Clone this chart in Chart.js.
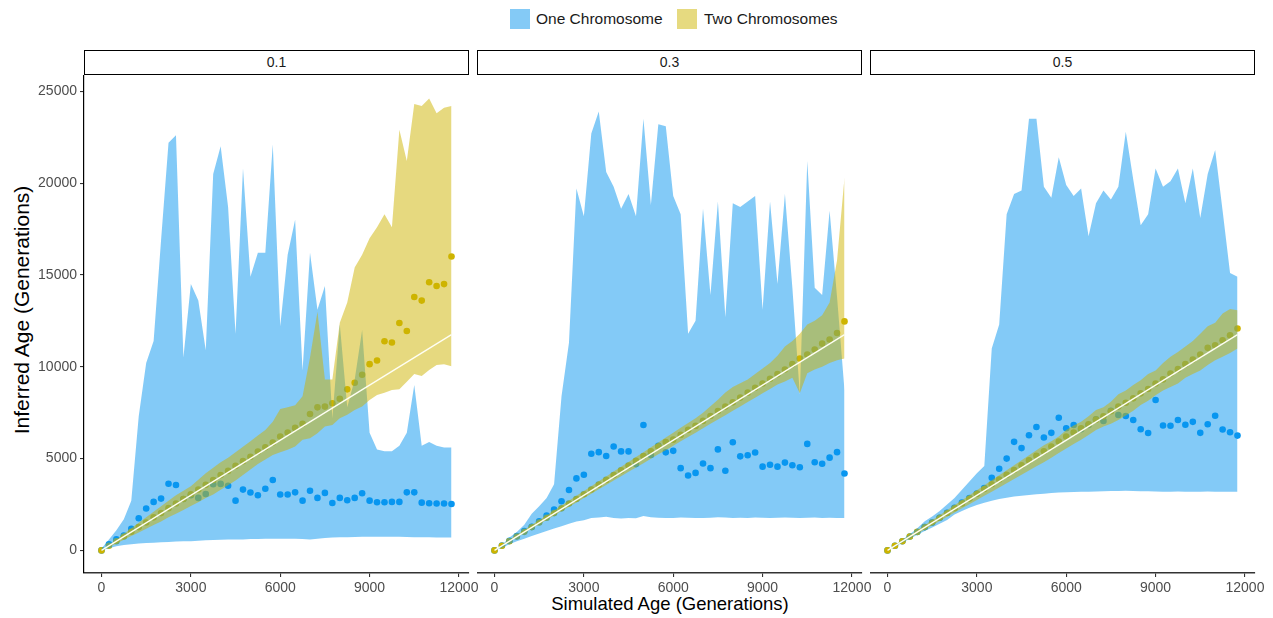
<!DOCTYPE html>
<html>
<head>
<meta charset="utf-8">
<script src="https://cdn.jsdelivr.net/npm/chart.js@4.4.1/dist/chart.umd.min.js"></script>
<style>
  body { margin: 0; background: #fff; font-family: "Liberation Sans", Arial, sans-serif; }
  #wrap { position: relative; width: 1273px; height: 618px; overflow: hidden; }
  canvas { position: absolute; }
  .strip { position: absolute; top: 50px; height: 25px; box-sizing: border-box; border: 1.4px solid #000;
           background: #fff; text-align: center; line-height: 22px; font-size: 14px; color: #1a1a1a; }
  .key { position: absolute; top: 9px; width: 20px; height: 20px; }
  .ktxt { position: absolute; top: 9px; line-height: 20px; font-size: 15.5px; color: #1a1a1a; white-space: nowrap; }
  #xtitle { position: absolute; left: 470px; width: 400px; top: 593px; text-align: center; font-size: 18.5px; color: #000; }
  #ytitle { position: absolute; left: 22px; top: 310px; transform: translate(-50%, -50%) rotate(-90deg);
            font-size: 21px; color: #000; white-space: nowrap; }
</style>
</head>
<body>
<div id="wrap">
  <div class="key" style="left:510px;background:#84caf6"></div>
  <div class="ktxt" style="left:536px">One Chromosome</div>
  <div class="key" style="left:677px;background:#e6da80"></div>
  <div class="ktxt" style="left:704px">Two Chromosomes</div>
  <div id="ytitle">Inferred Age (Generations)</div>
  <div id="xtitle">Simulated Age (Generations)</div>
</div>
<script>
// simulated ages (x) and axis ticks
const ages = [0, 250, 500, 750, 1000, 1250, 1500, 1750, 2000, 2250, 2500, 2750, 3000, 3250, 3500, 3750,
  4000, 4250, 4500, 4750, 5000, 5250, 5500, 5750, 6000, 6250, 6500, 6750, 7000, 7250, 7500, 7750,
  8000, 8250, 8500, 8750, 9000, 9250, 9500, 9750, 10000, 10250, 10500, 10750, 11000, 11250, 11500, 11750];
const xTicks = [0, 3000, 6000, 9000, 12000];
const yTicks = [0, 5000, 10000, 15000, 20000, 25000];
const panels = ["0.1", "0.3", "0.5"];

// facet 0.1
const oneMean01 = [0, 330, 600, 810, 1170, 1750, 2280, 2640, 2820, 3630,
  3560, 2800, 3000, 2860, 3070, 3600, 3620, 3520, 2710, 3310,
  3150, 3000, 3360, 3830, 3040, 3040, 3160, 2710, 3250, 2860,
  3130, 2580, 2860, 2730, 2860, 3110, 2710, 2620, 2620, 2640,
  2640, 3160, 3160, 2600, 2570, 2550, 2550, 2530];
const oneLow01 = [0, 120, 220, 300, 340, 370, 400, 420, 440, 460,
  480, 500, 500, 520, 550, 570, 580, 600, 600, 600,
  620, 620, 630, 630, 630, 640, 630, 620, 600, 640,
  680, 700, 720, 720, 730, 740, 740, 740, 740, 740,
  740, 730, 720, 720, 710, 700, 700, 700];
const oneHigh01 = [100, 600, 1100, 1700, 2700, 7300, 10200, 11400, 16900, 22200,
  22600, 10500, 14500, 13600, 10900, 20500, 22000, 18700, 11800, 20800,
  14900, 16200, 16200, 22100, 12200, 16100, 18000, 9800, 16200, 13100,
  14400, 7200, 12300, 7800, 9300, 12000, 6400, 5500, 5400, 5400,
  5700, 6400, 9000, 5700, 5900, 5700, 5600, 5600];
const twoMean01 = [0, 250, 500, 760, 1020, 1270, 1520, 1800, 2030, 2300,
  2550, 2800, 3060, 3320, 3570, 3830, 4100, 4330, 4600, 4860,
  5100, 5380, 5620, 5870, 6200, 6420, 6670, 6890, 7430, 7790,
  7830, 8010, 8260, 8770, 9130, 9560, 10140, 10340, 11390, 11320,
  12380, 11950, 13800, 13600, 14600, 14400, 14500, 16000];
const twoLow01 = [0, 180, 380, 580, 780, 980, 1180, 1380, 1580, 1800,
  2000, 2200, 2420, 2620, 2850, 3050, 3300, 3550, 3800, 4100,
  4400, 4700, 4950, 5200, 5350, 5480, 5660, 6020, 6110, 6380,
  6740, 6830, 7190, 7380, 7650, 7830, 8190, 8460, 8590, 8730,
  8770, 9180, 9600, 9490, 9820, 10090, 10140, 10030];
const twoHigh01 = [0, 300, 600, 900, 1200, 1500, 1800, 2100, 2400, 2700,
  3000, 3250, 3500, 3850, 4200, 4500, 4800, 5050, 5350, 5650,
  5950, 6250, 6550, 7000, 7700, 7800, 7900, 8400, 10500, 13000,
  9300, 9300, 12400, 13500, 15400, 16100, 17000, 17600, 18300, 17600,
  22900, 21200, 24300, 24200, 24600, 23800, 24100, 24200];

// facet 0.3
const oneMean03 = [0, 270, 520, 780, 1050, 1280, 1590, 1900, 2220, 2680,
  3290, 3920, 4120, 5260, 5350, 5140, 5660, 5390, 5390, 4700,
  6830, 5200, 5690, 5340, 5420, 4480, 4080, 4220, 4730, 4480,
  5500, 4340, 5890, 5120, 5180, 5330, 4560, 4660, 4560, 4780,
  4640, 4530, 5800, 4800, 4720, 5050, 5350, 4190];
const oneLow03 = [0, 150, 330, 500, 630, 780, 920, 1050, 1190, 1320,
  1450, 1570, 1640, 1770, 1790, 1830, 1770, 1740, 1770, 1750,
  1880, 1810, 1780, 1760, 1770, 1790, 1780, 1760, 1770, 1780,
  1800, 1790, 1770, 1780, 1760, 1790, 1780, 1770, 1780, 1790,
  1780, 1770, 1780, 1790, 1770, 1780, 1770, 1770];
const oneHigh03 = [0, 300, 700, 1000, 1400, 2000, 2400, 2850, 3600, 8400,
  11300, 19700, 18200, 22700, 23900, 20600, 19800, 18600, 19400, 18200,
  23500, 18800, 23200, 23100, 19300, 18300, 11800, 12500, 18600, 13900,
  19000, 12700, 18900, 18700, 19000, 19300, 13100, 19000, 14500, 19400,
  14300, 8500, 21200, 14300, 13900, 18500, 13800, 8700];
const twoMean03 = [0, 250, 500, 760, 1010, 1270, 1520, 1780, 2030, 2290,
  2550, 2800, 3060, 3320, 3580, 3840, 4100, 4360, 4620, 4880,
  5140, 5400, 5660, 5900, 6030, 6290, 6560, 6780, 7050, 7320,
  7590, 7830, 8060, 8320, 8590, 8860, 9090, 9350, 9600, 9850,
  10140, 10450, 10660, 10940, 11260, 11480, 11840, 12470];
const twoLow03 = [0, 240, 480, 710, 950, 1190, 1430, 1660, 1900, 2140,
  2380, 2610, 2850, 3090, 3330, 3560, 3800, 4040, 4280, 4510,
  4750, 4990, 5230, 5460, 5700, 5940, 6180, 6410, 6650, 6890,
  7130, 7360, 7600, 7840, 8080, 8310, 8550, 8790, 9030, 9200,
  9400, 8550, 9650, 9850, 10000, 10200, 10350, 10450];
const twoHigh03 = [0, 300, 580, 850, 1110, 1380, 1640, 1900, 2170, 2440,
  2700, 2970, 3230, 3500, 3760, 4030, 4290, 4560, 4820, 5090,
  5350, 5620, 5880, 6150, 6410, 6680, 6940, 7200, 7500, 7850,
  8200, 8600, 8900, 9100, 9300, 9600, 9900, 10200, 10600, 11100,
  11400, 11800, 12300, 12500, 12800, 13500, 15800, 20300];

// facet 0.5
const oneMean05 = [0, 250, 500, 760, 1000, 1270, 1520, 1780, 2050, 2320,
  2600, 2850, 3100, 3400, 3960, 4450, 5000, 5910, 5570, 6270,
  6720, 6150, 6400, 7220, 6650, 6830, 6600, 6830, 7140, 7050,
  7600, 7370, 7320, 7100, 6600, 6390, 8190, 6800, 6790, 7100,
  6840, 7000, 6400, 6870, 7330, 6580, 6430, 6250];
const oneLow05 = [0, 200, 420, 640, 850, 1050, 1250, 1450, 1650, 1950,
  2150, 2320, 2470, 2600, 2700, 2800, 2870, 2930, 2980, 3020,
  3060, 3090, 3120, 3150, 3170, 3180, 3200, 3200, 3210, 3220,
  3230, 3240, 3250, 3230, 3220, 3220, 3210, 3200, 3200, 3210,
  3200, 3200, 3200, 3210, 3200, 3200, 3200, 3200];
const oneHigh05 = [0, 300, 580, 880, 1200, 1590, 1850, 2150, 2500, 2860,
  3300, 3750, 4200, 4600, 11000, 12300, 18300, 19400, 19600, 23500,
  23500, 19800, 19200, 21400, 19900, 19300, 19700, 17100, 18900, 19600,
  19100, 19800, 22800, 20200, 17700, 18300, 20800, 19800, 20100, 20800,
  18900, 20800, 18100, 20500, 21800, 18500, 15100, 14900];
const twoMean05 = [0, 250, 500, 760, 1010, 1270, 1520, 1780, 2040, 2300,
  2560, 2820, 3080, 3340, 3600, 3860, 4120, 4380, 4640, 4900,
  5150, 5400, 5660, 5930, 6200, 6420, 6650, 6870, 7120, 7300,
  7580, 7830, 8040, 8280, 8550, 8790, 9090, 9310, 9630, 9870,
  10140, 10390, 10660, 11030, 11170, 11440, 11710, 12080];
const twoLow05 = [0, 220, 450, 680, 910, 1140, 1370, 1600, 1830, 2060,
  2290, 2520, 2750, 2980, 3200, 3430, 3660, 3890, 4120, 4350,
  4580, 4800, 5050, 5300, 5550, 5800, 6020, 6280, 6550, 6740,
  6900, 7100, 7350, 7600, 7920, 8150, 8450, 8700, 8900, 9090,
  9400, 9600, 9800, 10100, 10350, 10550, 10750, 11000];
const twoHigh05 = [0, 290, 560, 830, 1100, 1370, 1640, 1910, 2180, 2460,
  2730, 3000, 3270, 3550, 3820, 4090, 4360, 4640, 4910, 5180,
  5450, 5720, 5950, 6200, 6550, 6800, 7000, 7300, 7650, 7800,
  8100, 8500, 8700, 9000, 9270, 9600, 9800, 10200, 10550, 10800,
  11100, 11400, 11800, 12200, 12400, 12900, 13150, 13070];

const facetData = [
  [oneMean01, oneLow01, oneHigh01, twoMean01, twoLow01, twoHigh01],
  [oneMean03, oneLow03, oneHigh03, twoMean03, twoLow03, twoHigh03],
  [oneMean05, oneLow05, oneHigh05, twoMean05, twoLow05, twoHigh05]
];

const blue = "rgb(8,150,240)", blueFill = "rgba(8,150,240,0.5)";
const gold = "rgb(206,180,0)", goldFill = "rgba(206,180,0,0.5)";
const clear = "rgba(0,0,0,0)";
const tickFont = { family: "Liberation Sans", size: 14 };

function pts(ys) { return ages.map((a, i) => ({ x: a, y: ys[i] })); }

function band(ys, order) {
  return { data: pts(ys), borderColor: clear, borderWidth: 0, pointRadius: 0, fill: false, order: order };
}

const wrap = document.getElementById("wrap");
const plotW = 385, plotTop = 76, plotBottom = 573;

panels.forEach((lab, p) => {
  const left = 84 + 393 * p;
  const padL = p === 0 ? 84 : 0;
  const padR = 24, padT = 12, xH = 32;

  const strip = document.createElement("div");
  strip.className = "strip";
  strip.style.left = left + "px";
  strip.style.width = plotW + "px";
  strip.textContent = lab;
  wrap.appendChild(strip);

  const cv = document.createElement("canvas");
  cv.width = plotW + padL + padR;
  cv.height = plotBottom - plotTop + padT + xH;
  cv.style.left = (left - padL) + "px";
  cv.style.top = (plotTop - padT) + "px";
  wrap.appendChild(cv);

  const [oneMean, oneLow, oneHigh, twoMean, twoLow, twoHigh] = facetData[p];

  new Chart(cv.getContext("2d"), {
    type: "line",
    data: {
      datasets: [
        band(oneLow, 4),
        Object.assign(band(oneHigh, 3), { fill: { target: 0 }, backgroundColor: blueFill }),
        band(twoLow, 4),
        Object.assign(band(twoHigh, 2), { fill: { target: 2 }, backgroundColor: goldFill }),
        { data: pts(oneMean), showLine: false, pointRadius: 3.3, pointBorderWidth: 0,
          pointBackgroundColor: blue, pointBorderColor: blue, order: 6 },
        { data: pts(twoMean), showLine: false, pointRadius: 3.3, pointBorderWidth: 0,
          pointBackgroundColor: gold, pointBorderColor: gold, order: 5 },
        { data: [{ x: ages[0], y: ages[0] }, { x: ages[ages.length - 1], y: ages[ages.length - 1] }],
          borderColor: "#fffff4", borderWidth: 1.3, pointRadius: 0, fill: false, order: 1 }
      ]
    },
    options: {
      responsive: false,
      animation: false,
      events: [],
      layout: { autoPadding: false, padding: { left: 0, right: padR, top: padT, bottom: 0 } },
      plugins: { legend: { display: false }, tooltip: { enabled: false } },
      elements: { line: { tension: 0 } },
      scales: {
        x: {
          type: "linear",
          min: -587.5,
          max: 12337.5,
          afterBuildTicks: s => { s.ticks = xTicks.map(v => ({ value: v })); },
          afterFit: s => { s.height = xH; },
          ticks: { autoSkip: false, maxRotation: 0, padding: 3, color: "#4d4d4d", font: tickFont,
                   callback: v => String(v) },
          grid: { drawOnChartArea: false, tickLength: 4, color: "#333", lineWidth: 1.1 },
          border: { display: true, color: "#333", width: 1.6 }
        },
        y: {
          display: p === 0,
          min: -1230,
          max: 25830,
          afterBuildTicks: s => { s.ticks = yTicks.map(v => ({ value: v })); },
          afterFit: s => { s.width = padL; },
          ticks: { padding: 3, color: "#4d4d4d", font: tickFont, callback: v => String(v) },
          grid: { drawOnChartArea: false, tickLength: 4, color: "#333", lineWidth: 1.1 },
          border: { display: true, color: "#000", width: 1.2 }
        }
      }
    }
  });
});
</script>
</body>
</html>
